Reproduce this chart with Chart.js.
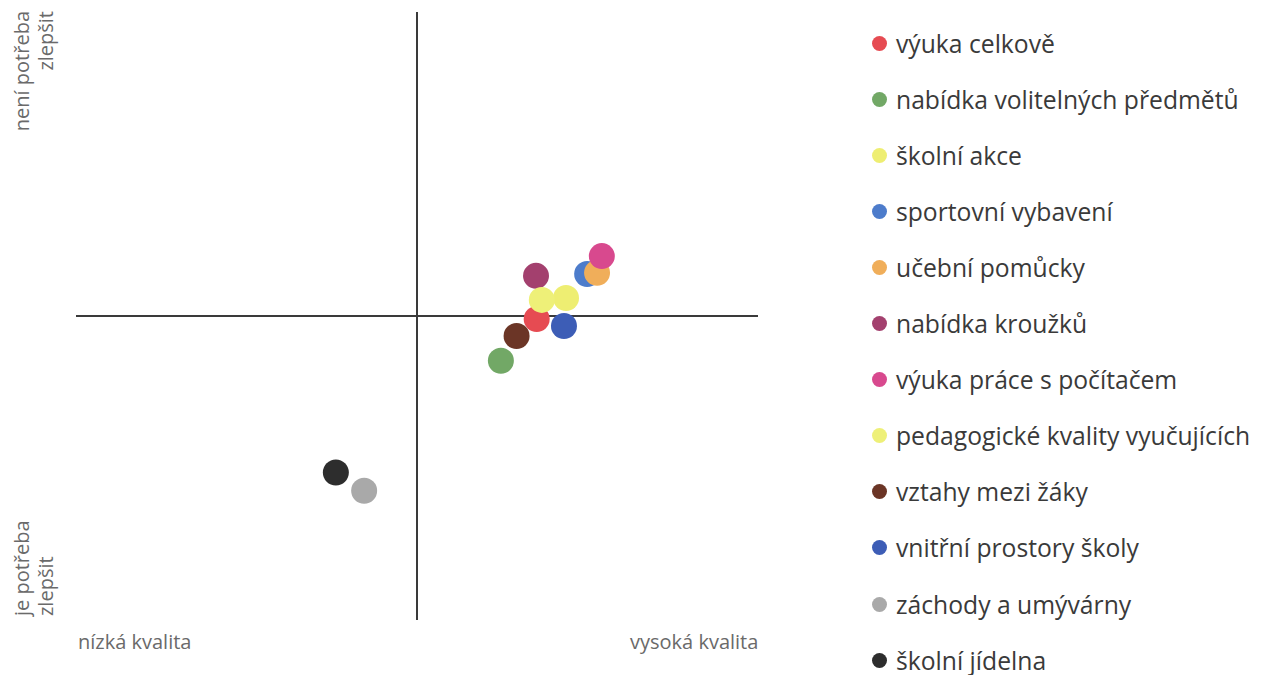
<!DOCTYPE html>
<html>
<head>
<meta charset="utf-8">
<script src="https://cdn.jsdelivr.net/npm/chart.js@4.4.1/dist/chart.umd.min.js"></script>
<style>
  html, body { margin: 0; padding: 0; background: #ffffff; }
  body { width: 1266px; height: 675px; position: relative; overflow: hidden; font-family: "Open Sans", "Noto Sans", sans-serif; }
  #wrap { position: absolute; left: 76px; top: 12px; width: 682px; height: 608px; }
  .ylab { position: absolute; color: #6a6a6a; font-size: 20px; line-height: 24px; transform-origin: 0 0; transform: rotate(-90deg); white-space: nowrap; }
  .xlab { position: absolute; color: #6a6a6a; font-size: 20px; top: 628px; white-space: nowrap; }
  #legend { position: absolute; left: 872px; top: 26px; }
  .li { position: absolute; left: 0; height: 34px; display: flex; align-items: center; white-space: nowrap; color: #3a3a3a; font-size: 24.7px; }
  .dot { width: 15px; height: 15px; border-radius: 50%; margin-right: 9px; flex: none; }
</style>
</head>
<body>
<div id="wrap"><canvas id="c" width="682" height="608"></canvas></div>

<div class="ylab" style="left:10px; top:133px; width:122px; text-align:right;">není potřeba<br>zlepšit</div>
<div class="ylab" style="left:10px; top:616px; width:122px; text-align:left;">je potřeba<br>zlepšit</div>
<div class="xlab" style="left:78px;">nízká kvalita</div>
<div class="xlab" style="left:630px;">vysoká kvalita</div>

<div id="legend"></div>

<script>
const categories = [
  "výuka celkově",
  "nabídka volitelných předmětů",
  "školní akce",
  "sportovní vybavení",
  "učební pomůcky",
  "nabídka kroužků",
  "výuka práce s počítačem",
  "pedagogické kvality vyučujících",
  "vztahy mezi žáky",
  "vnitřní prostory školy",
  "záchody a umývárny",
  "školní jídelna"
];
// x: quality (nízká ... vysoká), y: need to improve (je potřeba ... není potřeba)
const qualityValues = [3.51, 2.46, 4.37, 4.99, 5.28, 3.49, 5.42, 3.66, 2.92, 4.31, -1.55, -2.38];
const needValues    = [-0.10, -1.47, 0.59, 1.38, 1.42, 1.32, 1.97, 0.53, -0.66, -0.33, -5.75, -5.15];
const colors = [
  "#e64b52", "#72a866", "#eeee72", "#4d7ccb", "#f0ae5a", "#a3406e",
  "#d8498e", "#eef078", "#6b3526", "#3d5db6", "#a9a9a9", "#2d2d2d"
];
const axisMin = -10, axisMax = 10;

// legend
const legend = document.getElementById('legend');
categories.forEach((name, i) => {
  const d = document.createElement('div');
  d.className = 'li';
  d.style.top = (i * 56.1) + 'px';
  d.innerHTML = '<span class="dot" style="background:' + colors[i] + '"></span><span>' + name + '</span>';
  legend.appendChild(d);
});

const crossAxes = {
  id: 'crossAxes',
  beforeDatasetsDraw(chart) {
    const { ctx, chartArea, scales } = chart;
    const x0 = scales.x.getPixelForValue(0);
    const y0 = scales.y.getPixelForValue(0);
    ctx.save();
    ctx.strokeStyle = '#3a3a3a';
    ctx.lineWidth = 2;
    ctx.beginPath();
    ctx.moveTo(x0, chartArea.top);
    ctx.lineTo(x0, chartArea.bottom);
    ctx.moveTo(chartArea.left, y0);
    ctx.lineTo(chartArea.right, y0);
    ctx.stroke();
    ctx.restore();
  }
};

new Chart(document.getElementById('c'), {
  type: 'scatter',
  data: {
    labels: categories,
    datasets: [{
      data: qualityValues.map((x, i) => ({ x: x, y: needValues[i] })),
      backgroundColor: colors,
      borderWidth: 0,
      pointRadius: 13,
      pointHoverRadius: 13
    }]
  },
  options: {
    responsive: false,
    animation: false,
    devicePixelRatio: 1,
    layout: { padding: 0, autoPadding: false },
    plugins: { legend: { display: false }, tooltip: { enabled: false } },
    scales: {
      x: { type: 'linear', min: axisMin, max: axisMax, display: false },
      y: { type: 'linear', min: axisMin, max: axisMax, display: false }
    }
  },
  plugins: [crossAxes]
});
</script>
</body>
</html>
